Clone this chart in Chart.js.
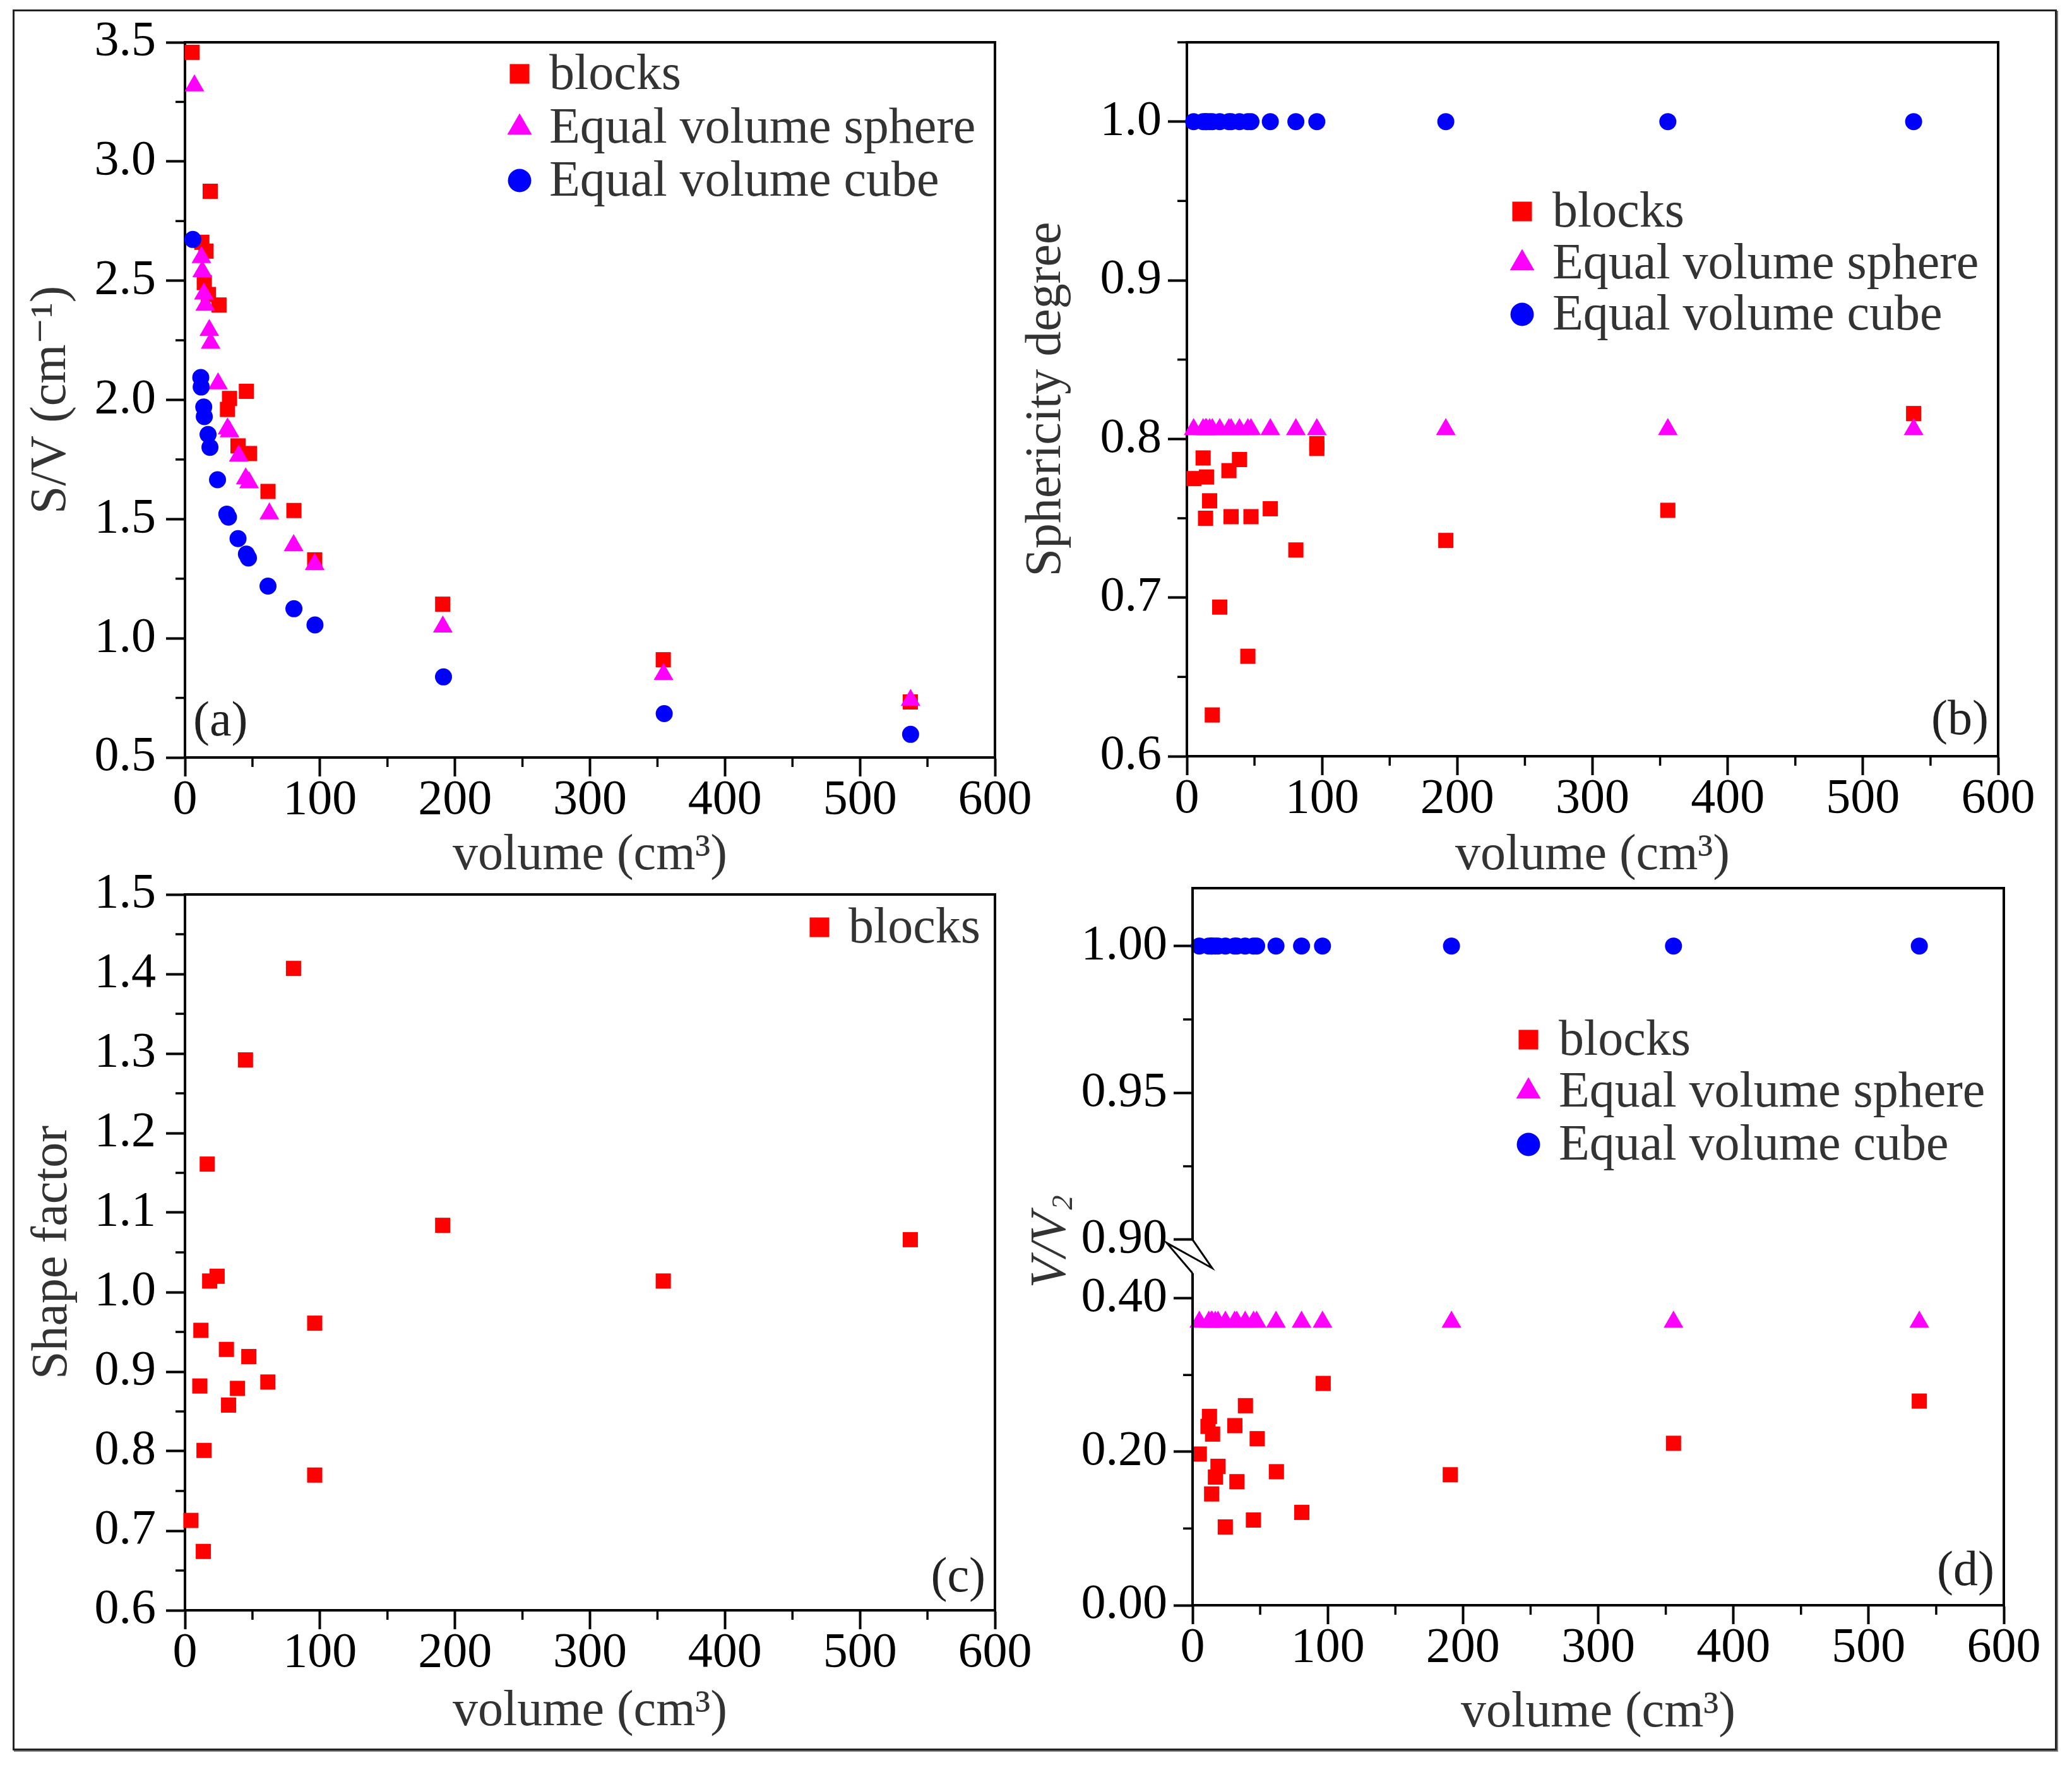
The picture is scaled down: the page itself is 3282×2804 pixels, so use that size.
<!DOCTYPE html>
<html>
<head>
<meta charset="utf-8">
<script src="https://cdn.jsdelivr.net/npm/chart.js@4.4.1/dist/chart.umd.min.js"></script>
<style>
  html, body { margin: 0; padding: 0; background: #fff; }
  body { position: relative; width: 3282px; height: 2804px; overflow: hidden; }
  canvas { position: absolute; }
  #frame { position: absolute; left: 20px; top: 15px; width: 3232px; height: 2752px;
           border: 3px solid #222; box-shadow: 2px 2px 0 #777; }
</style>
</head>
<body>
<div id="frame"></div>
<script>
const SERIF = "'Liberation Serif', 'Times New Roman', 'DejaVu Serif', serif";
const RED = '#ff0000', MAGENTA = '#ff00ff', BLUE = '#0000ff';

// x axis ticks (volume, cm3) shared by the four panels
const volumeTicks = [0, 100, 200, 300, 400, 500, 600];

// (a) S/V ratio
const svTicks = [0.5, 1.0, 1.5, 2.0, 2.5, 3.0, 3.5];
const svBlocks = [[5.3,3.458],[12.5,2.661],[14.3,2.492],[15.6,2.624],[17.4,2.442],[18.7,2.875],[25.2,2.398],
  [31.5,1.960],[33.0,2.006],[39.3,1.807],[45.5,2.036],[47.8,1.775],[61.5,1.616],[80.7,1.536],[96.1,1.329],
  [190.9,1.143],[354.3,0.910],[537.3,0.733]];
const svSphere = [[7.0,3.318],[12.2,2.598],[12.8,2.539],[14.0,2.445],[15.0,2.398],[18.0,2.292],[19.0,2.238],
  [24.5,2.068],[31.5,1.879],[33.0,1.867],[39.8,1.765],[45.0,1.670],[47.5,1.653],[62.5,1.523],[80.5,1.390],
  [96.1,1.310],[191.0,1.048],[354.5,0.849],[537.5,0.740]];
const svCube = [[5.8,2.673],[11.7,2.094],[12.0,2.054],[13.9,1.970],[14.3,1.930],[17.1,1.855],[18.5,1.801],
  [24.1,1.665],[31.0,1.521],[32.2,1.508],[39.3,1.418],[45.5,1.353],[47.0,1.337],[61.5,1.219],[80.7,1.124],
  [96.3,1.056],[191.5,0.838],[355.0,0.684],[537.5,0.597]];

// (b) sphericity degree
const sphTicks = [0.6, 0.7, 0.8, 0.9, 1.0];
const sphBlocks = [[5.1,0.775],[12.0,0.788],[13.8,0.750],[14.5,0.776],[16.8,0.761],[18.8,0.626],[24.3,0.694],
  [31.1,0.780],[32.7,0.751],[38.9,0.787],[45.1,0.663],[47.4,0.751],[61.7,0.756],[80.6,0.730],[96.1,0.797],
  [96.1,0.794],[191.5,0.736],[355.7,0.755],[537.5,0.816]];
// volumes of the reference shapes in (b) and (d)
const refVolumes = [5, 12, 13.8, 14.5, 16.8, 18.8, 24.3, 31.1, 32.7, 38.9, 45.1, 47.4, 61.7, 80.6, 96.1, 191.5, 355.7, 537.5];
const sphSphere = refVolumes.map(() => 0.806);
const sphCube = refVolumes.map(() => 1.0);

// (c) shape factor
const shapeTicks = [0.6, 0.7, 0.8, 0.9, 1.0, 1.1, 1.2, 1.3, 1.4, 1.5];
const shapeBlocks = [[4.4,0.713],[11.0,0.882],[11.8,0.952],[13.6,0.674],[14.1,0.801],[16.5,1.161],[18.3,1.014],
  [23.8,1.020],[30.7,0.928],[32.3,0.858],[38.9,0.879],[44.8,1.292],[47.3,0.919],[61.4,0.887],[80.4,1.407],
  [96.1,0.961],[96.1,0.770],[190.9,1.084],[354.3,1.014],[537.3,1.066]];

// (d) V/V2, broken axis
const ratioLowTicks = [0.0, 0.2, 0.4];
const ratioHighTicks = [0.90, 0.95, 1.00];
const ratioBlocks = [[5.0,0.197],[11.4,0.233],[12.5,0.246],[14.1,0.145],[14.8,0.223],[16.9,0.167],[18.8,0.181],
  [24.2,0.102],[31.3,0.234],[32.8,0.161],[39.1,0.260],[45.0,0.111],[47.8,0.217],[62.0,0.174],[80.8,0.121],
  [96.6,0.289],[190.6,0.170],[355.7,0.211],[537.5,0.266]];
const ratioSphere = refVolumes.map(() => 0.369);
const ratioCube = refVolumes.map(() => 1.0);

const legendNames = ['blocks', 'Equal volume sphere', 'Equal volume cube'];
const marks = [
  { style: 'rect', color: RED, r: 17, lr: 22 },
  { style: 'triangle', color: MAGENTA, r: 18, lr: 22.5 },
  { style: 'circle', color: BLUE, r: 13.5, lr: 18.5 }
];

function pairs(p) { return p.map(d => ({ x: d[0], y: d[1] })); }
function row(xs, ys) { return xs.map((x, i) => ({ x: x, y: ys[i] })); }
function midpoints(t) { const m = []; for (let i = 0; i < t.length - 1; i++) m.push((t[i] + t[i + 1]) / 2); return m; }

function dataset(i, pts, axis) {
  const m = marks[i];
  return {
    label: legendNames[i], data: pts, yAxisID: axis || 'y', order: 3 - i, clip: false,
    pointStyle: m.style, pointRadius: m.r, pointHoverRadius: m.r,
    backgroundColor: m.color, borderColor: m.color, borderWidth: 0, pointBorderWidth: 0
  };
}

function tickFont() { return { family: SERIF, size: 78, lineHeight: 1 }; }

function xScale(box, area, titleY) {
  const bottom = box.top + box.height;
  return {
    type: 'linear', min: 0, max: 600,
    afterBuildTicks: s => { s.ticks = volumeTicks.map(v => ({ value: v })); },
    afterFit: s => { s.height = bottom - area.b; },
    grid: { drawOnChartArea: false, tickLength: 30, tickWidth: 4, tickColor: '#000' },
    border: { color: '#000', width: 4 },
    ticks: { font: tickFont(), color: '#000', padding: 0, maxRotation: 0, autoSkip: false, callback: v => String(v) },
    title: { display: true, text: 'volume (cm\u00B3)', color: '#333',
             font: { family: SERIF, size: 80, lineHeight: 1 },
             padding: { top: 0, bottom: bottom - titleY - 40 } }
  };
}

function yScale(box, area, o) {
  return {
    type: 'linear', min: o.min, max: o.max, position: 'left',
    stack: o.stack, stackWeight: o.weight,
    afterBuildTicks: s => { s.ticks = o.ticks.map(v => ({ value: v })); },
    afterFit: s => { s.width = area.l - box.left; },
    grid: { drawOnChartArea: false, tickLength: 30, tickWidth: 4, tickColor: '#000' },
    border: { display: o.border !== false, color: '#000', width: 4 },
    ticks: { font: tickFont(), color: '#000', padding: o.pad, autoSkip: false, callback: v => v.toFixed(o.dec) },
    title: o.title ? { display: true, text: o.title, color: '#333',
             font: { family: SERIF, size: 80, lineHeight: 1 },
             padding: { top: o.titleX - box.left - 40, bottom: 0 } } : { display: false }
  };
}

function drawMark(ctx, i, x, y) {
  const m = marks[i];
  ctx.fillStyle = m.color;
  Chart.helpers.drawPoint(ctx, { pointStyle: m.style, radius: m.lr, rotation: 0, borderWidth: 0 }, x, y);
}

function decoPlugin(spec) {
  return {
    id: 'deco',
    afterDraw(chart) {
      const ctx = chart.ctx, a = chart.chartArea;
      ctx.save();
      ctx.strokeStyle = '#000';
      ctx.lineWidth = 3.5;
      // minor ticks
      for (const id in spec.minor) {
        const s = chart.scales[id];
        spec.minor[id].forEach(v => {
          const p = s.getPixelForValue(v);
          ctx.beginPath();
          if (s.isHorizontal()) { ctx.moveTo(p, a.bottom); ctx.lineTo(p, a.bottom + 15); }
          else { ctx.moveTo(a.left - 15, p); ctx.lineTo(a.left, p); }
          ctx.stroke();
        });
      }
      // box: top and right sides
      ctx.lineWidth = 4;
      ctx.beginPath();
      ctx.moveTo(a.left - 2, a.top);
      ctx.lineTo(a.right, a.top);
      ctx.lineTo(a.right, a.bottom + 2);
      ctx.stroke();
      if (spec.extra) spec.extra(chart, ctx, a);
      // legend
      if (spec.legend) {
        ctx.font = '80px ' + SERIF;
        ctx.textBaseline = 'alphabetic';
        ctx.textAlign = 'left';
        spec.legend.rows.forEach((i, k) => {
          const y = a.top + spec.legend.dy[k];
          drawMark(ctx, i, a.left + spec.legend.dx, y);
          ctx.fillStyle = '#333';
          ctx.fillText(legendNames[i], a.left + spec.legend.tx, y + 24);
        });
      }
      // panel tag
      ctx.font = '78px ' + SERIF;
      ctx.fillStyle = '#222';
      ctx.textBaseline = 'middle';
      if (spec.tag.left) { ctx.textAlign = 'left'; ctx.fillText(spec.tag.text, a.left + spec.tag.dx, a.bottom - spec.tag.dy); }
      else { ctx.textAlign = 'right'; ctx.fillText(spec.tag.text, a.right - spec.tag.dx, a.bottom - spec.tag.dy); }
      ctx.restore();
    }
  };
}

function panel(box, area, datasets, scales, spec) {
  const cv = document.createElement('canvas');
  cv.width = box.width; cv.height = box.height;
  cv.style.left = box.left + 'px'; cv.style.top = box.top + 'px';
  cv.style.width = box.width + 'px'; cv.style.height = box.height + 'px';
  document.body.appendChild(cv);
  return new Chart(cv.getContext('2d'), {
    type: 'scatter',
    data: { datasets: datasets },
    options: {
      responsive: false, animation: false, devicePixelRatio: 1, events: [],
      layout: { padding: { left: 0, top: area.t - box.top, right: box.left + box.width - area.r, bottom: 0 } },
      plugins: { legend: { display: false }, tooltip: { enabled: false } },
      scales: scales
    },
    plugins: [decoPlugin(spec)]
  });
}

const minorX = midpoints(volumeTicks);

// (a)
{
  const box = { left: 0, top: 0, width: 1660, height: 1400 };
  const area = { l: 293, t: 67, r: 1576, b: 1200 };
  panel(box, area,
    [dataset(0, pairs(svBlocks)), dataset(1, pairs(svSphere)), dataset(2, pairs(svCube))],
    { x: xScale(box, area, 1356),
      y: yScale(box, area, { min: 0.5, max: 3.5, ticks: svTicks, dec: 1, pad: 16, title: 'S/V (cm\u207B\u00B9)', titleX: 82 }) },
    { minor: { x: minorX, y: midpoints(svTicks) },
      legend: { rows: [0, 1, 2], dx: 530, tx: 577, dy: [50, 135, 219] },
      tag: { text: '(a)', left: true, dx: 13, dy: 55 } });
}

// (b)
{
  const box = { left: 1600, top: 0, width: 1682, height: 1400 };
  const area = { l: 1880, t: 67, r: 3165, b: 1198 };
  panel(box, area,
    [dataset(0, pairs(sphBlocks)), dataset(1, row(refVolumes, sphSphere)), dataset(2, row(refVolumes, sphCube))],
    { x: xScale(box, area, 1356),
      y: yScale(box, area, { min: 0.6, max: 1.05, ticks: sphTicks, dec: 1, pad: 10, title: 'Sphericity degree', titleX: 1658 }) },
    { minor: { x: minorX, y: midpoints(sphTicks).concat([1.05]) },
      legend: { rows: [0, 1, 2], dx: 531, tx: 579, dy: [268, 350, 431] },
      tag: { text: '(b)', left: false, dx: 15, dy: 55 } });
}

// (c)
{
  const box = { left: 0, top: 1330, width: 1660, height: 1474 };
  const area = { l: 293, t: 1417, r: 1576, b: 2551 };
  panel(box, area,
    [dataset(0, pairs(shapeBlocks))],
    { x: xScale(box, area, 2712),
      y: yScale(box, area, { min: 0.6, max: 1.5, ticks: shapeTicks, dec: 1, pad: 16, title: 'Shape factor', titleX: 84 }) },
    { minor: { x: minorX, y: midpoints(shapeTicks) },
      legend: { rows: [0], dx: 1005, tx: 1051, dy: [52] },
      tag: { text: '(c)', left: false, dx: 15, dy: 50 } });
}

// (d) broken y axis: two stacked scales
{
  const box = { left: 1600, top: 1330, width: 1682, height: 1474 };
  const area = { l: 1889, t: 1407, r: 3174, b: 2543 };
  panel(box, area,
    [dataset(0, pairs(ratioBlocks), 'yLow'), dataset(1, row(refVolumes, ratioSphere), 'yLow'),
     dataset(2, row(refVolumes, ratioCube), 'yTop')],
    { x: xScale(box, area, 2714),
      yLow: yScale(box, area, { min: 0, max: 0.4548, ticks: ratioLowTicks, dec: 2, pad: 10, stack: 'v', weight: 553, border: false }),
      yTop: yScale(box, area, { min: 0.8944, max: 1.0197, ticks: ratioHighTicks, dec: 2, pad: 10, stack: 'v', weight: 583, border: false }) },
    { minor: { x: minorX, yLow: midpoints(ratioLowTicks), yTop: midpoints(ratioHighTicks) },
      legend: { rows: [0, 1, 2], dx: 532, tx: 580, dy: [240, 322, 406] },
      tag: { text: '(d)', left: false, dx: 15, dy: 52 },
      extra: (chart, ctx, a) => {
        const p90 = chart.scales.yTop.getPixelForValue(0.90);
        ctx.lineWidth = 4;
        ctx.beginPath();
        ctx.moveTo(a.left, a.top - 2);
        ctx.lineTo(a.left, p90);
        ctx.lineWidth = 4;
        ctx.stroke();
        ctx.beginPath();
        ctx.lineWidth = 3;
        ctx.moveTo(a.left, p90);
        ctx.lineTo(a.left + 31, p90 + 45);
        ctx.lineTo(a.left - 41, p90 + 5);
        ctx.lineTo(a.left, p90 + 53);
        ctx.stroke();
        ctx.beginPath();
        ctx.lineWidth = 4;
        ctx.moveTo(a.left, p90 + 53);
        ctx.lineTo(a.left, a.bottom + 2);
        ctx.stroke();
        // y title V/V2 (italic, subscript)
        ctx.save();
        ctx.translate(1666 - 1600, 1967 - 1330);
        ctx.rotate(-Math.PI / 2);
        ctx.fillStyle = '#333';
        ctx.textBaseline = 'middle';
        ctx.textAlign = 'left';
        ctx.font = 'italic 80px ' + SERIF;
        const w1 = ctx.measureText('V/V').width;
        ctx.font = 'italic 46px ' + SERIF;
        const w2 = ctx.measureText('2').width;
        const x0 = -(w1 + w2 + 4) / 2;
        ctx.font = 'italic 80px ' + SERIF;
        ctx.fillText('V/V', x0, 0);
        ctx.font = 'italic 46px ' + SERIF;
        ctx.fillText('2', x0 + w1 + 4, 20);
        ctx.restore();
      } });
}
</script>
</body>
</html>
